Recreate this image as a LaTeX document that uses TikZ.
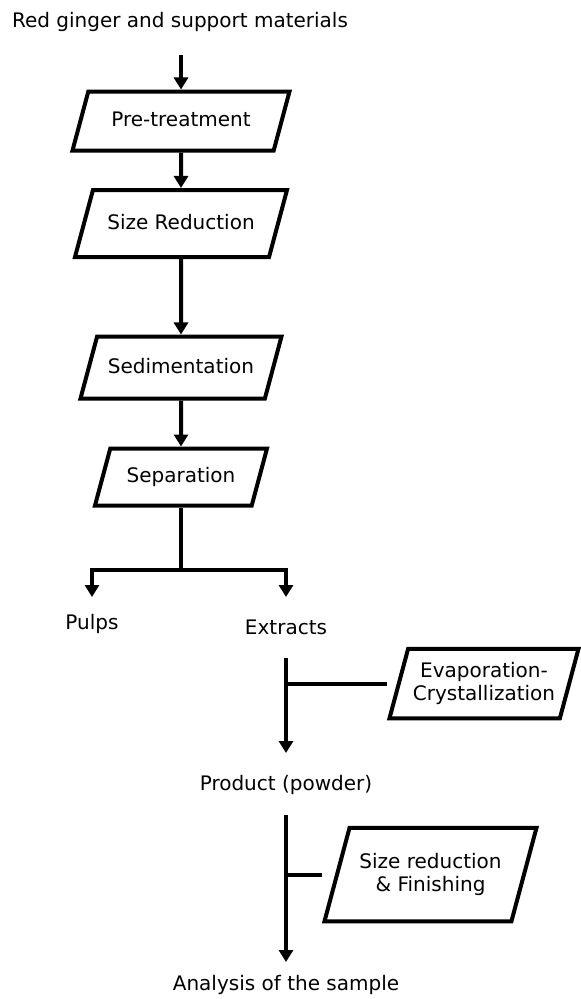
\documentclass[tikz,border=0pt]{standalone}
\usepackage{fontspec}
\setmainfont{DejaVu Sans}
\usepackage{tikz}
\usetikzlibrary{shapes.geometric, arrows.meta}
\tikzstyle{arrow} = [line width=4pt,-{Triangle[width=14pt,length=12pt]}]
\tikzstyle{line} = [line width=4pt]
\tikzstyle{process} = [trapezium, trapezium left angle=75, trapezium right angle=105, trapezium stretches body=true, draw, line width=4pt, align=center, inner xsep=0pt, text height=15pt, text depth=4pt]
\tikzstyle{twoline} = [text height=37.5pt, text depth=4pt]
\tikzstyle{txt} = [inner sep=0pt, align=center]

\begin{document}
\begin{tikzpicture}[x=1pt,y=1pt,yscale=-1,font=\fontsize{20}{22.5}\selectfont]
	\useasboundingbox (0,0) rectangle (581,999);
	
	% Main column:
	\node[txt] (title) at (180,22) {Red ginger and support materials};
	\node[process, minimum width=217pt, inner ysep=20pt] (pretreat) at (181,121) {Pre-treatment};
	\node[process, minimum width=212pt, inner ysep=24pt] (sizered) at (181,223.5) {Size Reduction};
	\node[process, minimum width=201pt, inner ysep=21.5pt] (sedim) at (181,367.5) {Sedimentation};
	\node[process, minimum width=172pt, inner ysep=19pt] (separ) at (181,477) {Separation};
	
	\draw[arrow, shorten <=33pt] (title.center -| pretreat.north) -- (pretreat.north);
	\draw[arrow] (pretreat) -- (sizered);
	\draw[arrow] (sizered) -- (sedim);
	\draw[arrow] (sedim) -- (separ);
	
	% Split into pulps and extracts:
	\coordinate (split) at (181,570);
	\node[txt] (pulps) at (92,624) {Pulps};
	\node[txt] (extracts) at (286,627) {Extracts};
	\draw[line] (separ) -- (split);
	\draw[arrow, shorten >=27pt] (split) -| (pulps.center);
	\draw[arrow, shorten >=30pt] (split) -| (extracts.center);
	
	% Extracts column:
	\node[process, twoline, minimum width=189pt, inner ysep=14pt] (evap) at (484,683.5) {Evaporation-\\Crystallization};
	\node[txt] (product) at (286,785) {Product (powder)};
	\draw[arrow, shorten <=31pt, shorten >=32pt] (extracts.center) -- (product.center);
	\draw[line] (evap.bottom left corner |- evap.west) -- (extracts.center |- evap.west);
	
	\node[process, twoline, minimum width=212pt, inner ysep=26pt] (finish) at (430.5,874.5) {Size reduction\\\& Finishing};
	\node[txt] (analysis) at (286,985) {Analysis of the sample};
	\draw[arrow, shorten <=30pt, shorten >=23pt] (product.center) -- (analysis.center);
	\draw[line] (finish.bottom left corner |- finish.west) -- (product.center |- finish.west);
	
\end{tikzpicture}
\end{document}
